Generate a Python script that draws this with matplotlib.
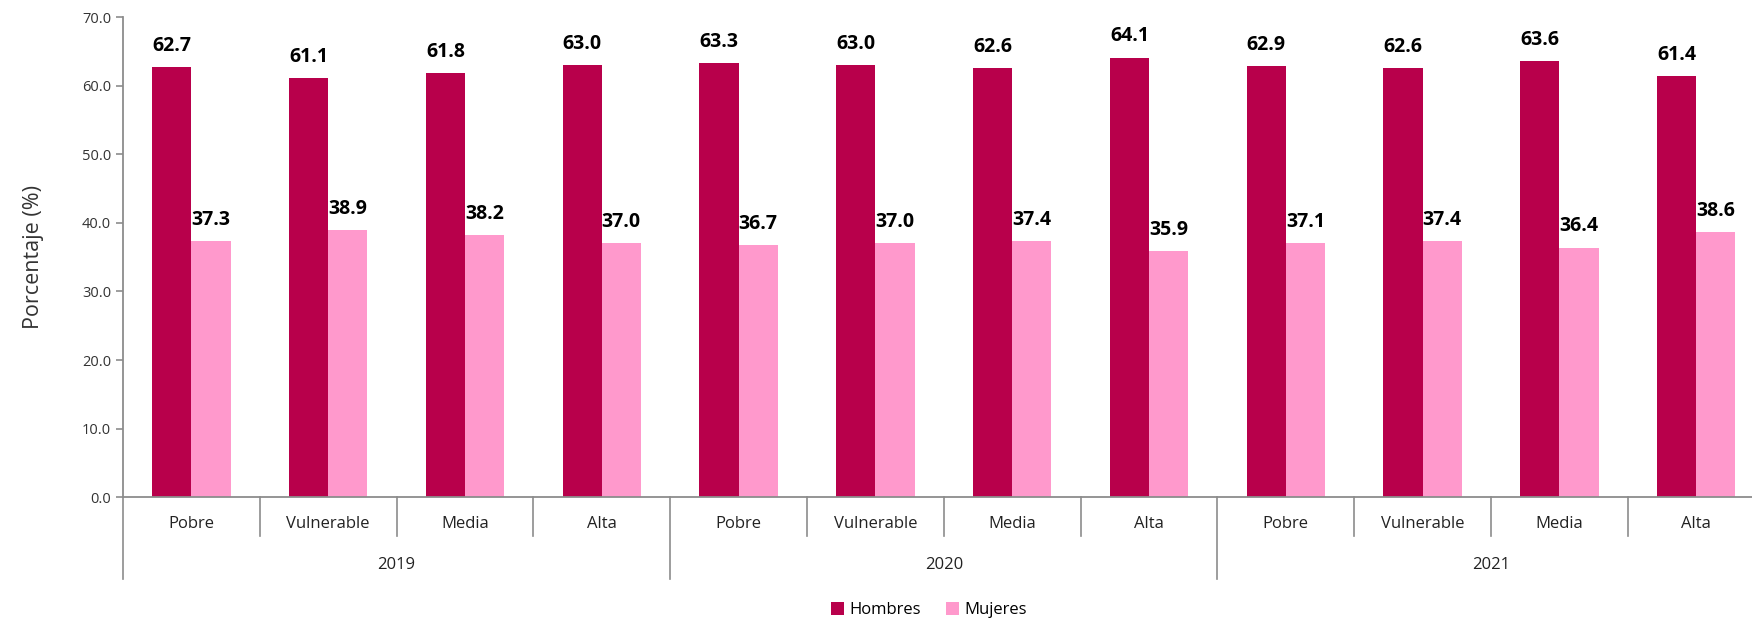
import numpy as np
import matplotlib
matplotlib.use("Agg")
import matplotlib.pyplot as plt
import matplotlib.transforms as mtransforms

plt.rcParams['font.family'] = ['Open Sans', 'DejaVu Sans']

# datos
years = ['2019', '2020', '2021']
niveles = ['Pobre', 'Vulnerable', 'Media', 'Alta']
hombres = [62.7, 61.1, 61.8, 63.0, 63.3, 63.0, 62.6, 64.1, 62.9, 62.6, 63.6, 61.4]
mujeres = [37.3, 38.9, 38.2, 37.0, 36.7, 37.0, 37.4, 35.9, 37.1, 37.4, 36.4, 38.6]

col_h = '#B8004B'
col_m = '#FF99CC'
gris = '#8C8C8C'

fig = plt.figure(figsize=(17.52, 6.2), dpi=100)
ax = fig.add_axes([0.0702, 0.198, 0.937, 0.7745])

n = len(hombres)
x = np.arange(n)
w = 0.286
b1 = ax.bar(x - w / 2, hombres, w, color=col_h, label='Hombres')
b2 = ax.bar(x + w / 2, mujeres, w, color=col_m, label='Mujeres')

for bars in (b1, b2):
    for r in bars:
        ax.annotate(f'{r.get_height():.1f}', (r.get_x() + r.get_width() / 2, r.get_height()),
                    xytext=(0, 8), textcoords='offset points', ha='center', va='bottom',
                    fontsize=14, fontweight='bold', color='black')

ax.set_xlim(-0.5, n - 0.5)
ax.set_ylim(0, 70)
ax.set_yticks(np.arange(0, 71, 10))
ax.set_yticklabels([f'{v:.1f}' for v in np.arange(0, 71, 10)], fontsize=10.5, color='#333333')
ax.tick_params(axis='y', length=5, color=gris, width=1.2)
ax.set_xticks([])
for s in ['top', 'right']:
    ax.spines[s].set_visible(False)
for s in ['left', 'bottom']:
    ax.spines[s].set_color(gris)
    ax.spines[s].set_linewidth(1.3)

ax.set_ylabel('Porcentaje (%)', fontsize=15.5, color='#333333')
ax.yaxis.set_label_coords(-0.048, 0.5)

# etiquetas de dos niveles en el eje x
trans = mtransforms.blended_transform_factory(ax.transData, ax.transAxes)
labels = [nv for _ in years for nv in niveles]
for i, lab in enumerate(labels):
    ax.text(i, -0.056, lab, transform=trans, ha='center', va='center', fontsize=12, color='#222222')
for i in range(n + 1):
    largo = -0.171 if i % len(niveles) == 0 else -0.081
    ax.plot([i - 0.5, i - 0.5], [0, largo], transform=trans, color=gris, lw=1.2, clip_on=False)
for j, yr in enumerate(years):
    c = j * len(niveles) + (len(niveles) - 1) / 2
    ax.text(c, -0.142, yr, transform=trans, ha='center', va='center', fontsize=12, color='#222222')

fig.legend(handles=[b1, b2], loc='center', bbox_to_anchor=(0.53, 0.016), ncol=2, frameon=False,
           fontsize=12, handlelength=0.8, handleheight=0.8, handletextpad=0.3, columnspacing=1.5)

fig.savefig('out.png', dpi=100)
